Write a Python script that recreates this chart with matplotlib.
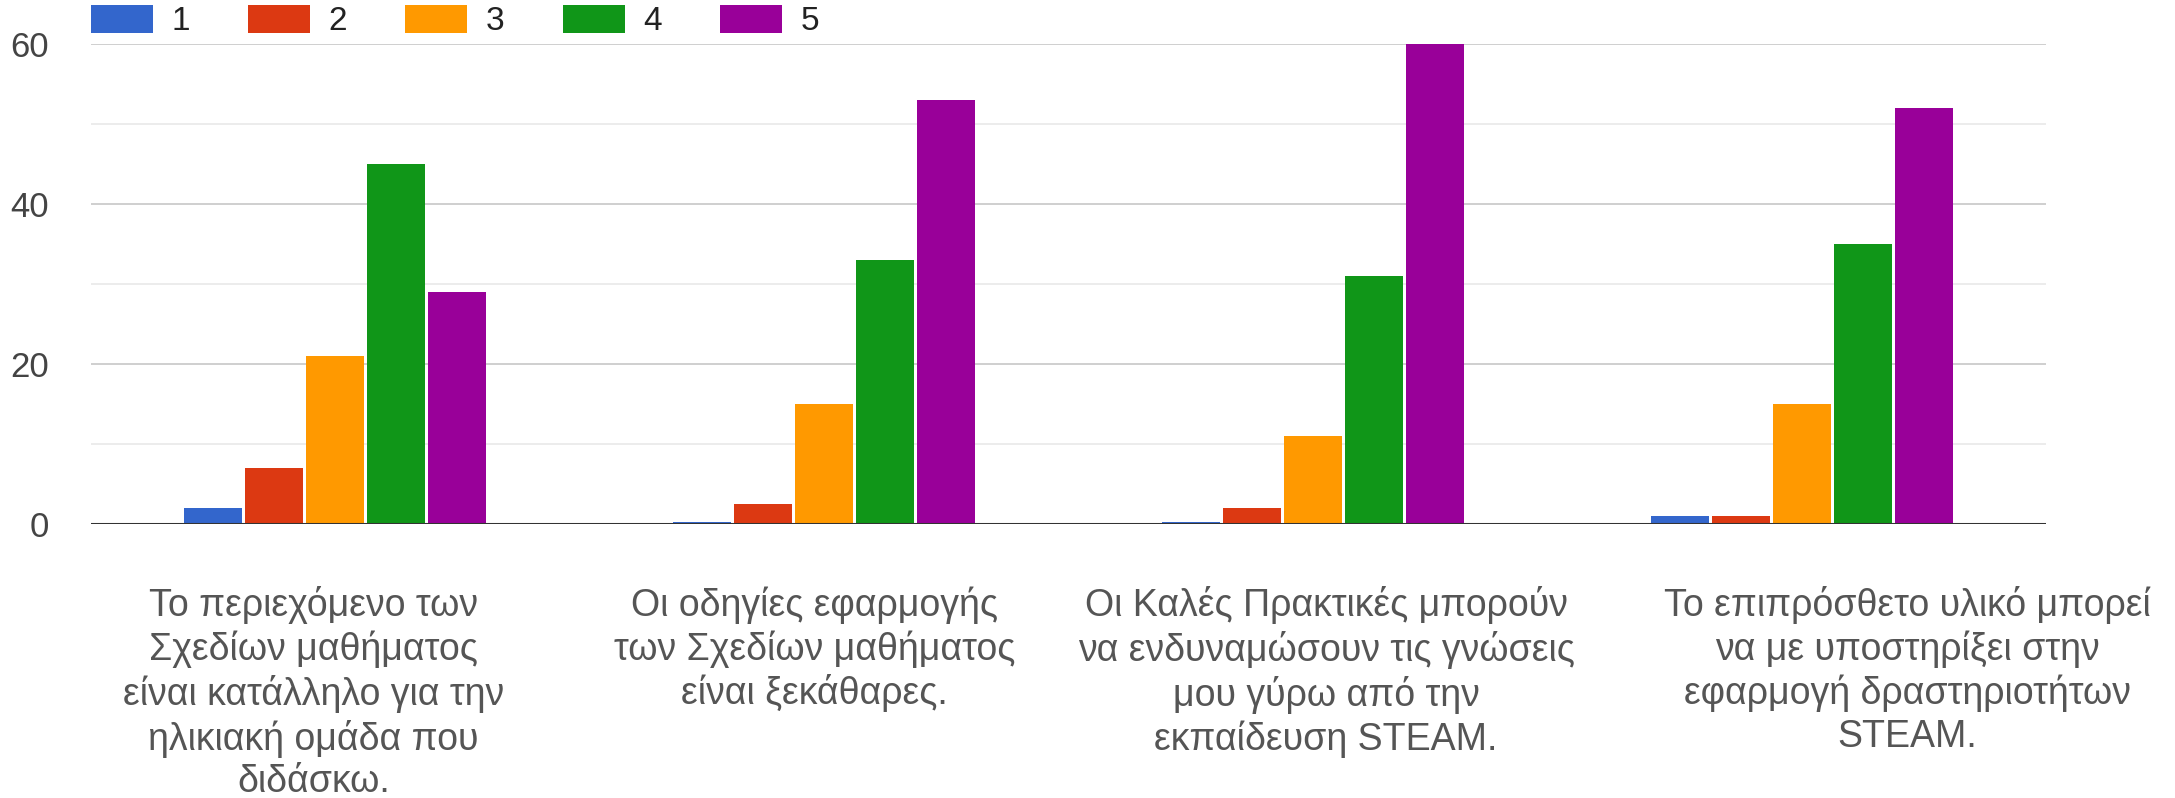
import matplotlib
matplotlib.use('Agg')
import matplotlib.pyplot as plt
import numpy as np

plt.rcParams['font.family'] = ['Liberation Sans', 'DejaVu Sans']

# Δεδομένα
categories = [
    'Το περιεχόμενο των\nΣχεδίων μαθήματος\nείναι κατάλληλο για την\nηλικιακή ομάδα που\nδιδάσκω.',
    'Οι οδηγίες εφαρμογής\nτων Σχεδίων μαθήματος\nείναι ξεκάθαρες.',
    'Οι Καλές Πρακτικές μπορούν\nνα ενδυναμώσουν τις γνώσεις\nμου γύρω από την\nεκπαίδευση STEAM.',
    'Το επιπρόσθετο υλικό μπορεί\nνα με υποστηρίξει στην\nεφαρμογή δραστηριοτήτων\nSTEAM.',
]
series_labels = ['1', '2', '3', '4', '5']
vals_1 = [2, 0.2, 0.2, 1]
vals_2 = [7, 2.5, 2, 1]
vals_3 = [21, 15, 11, 15]
vals_4 = [45, 33, 31, 35]
vals_5 = [29, 53, 60, 52]
series = [vals_1, vals_2, vals_3, vals_4, vals_5]
colors = ['#3366cc', '#dc3912', '#ff9900', '#109618', '#990099']

fig = plt.figure(figsize=(21.75, 7.98), dpi=100)
ax = fig.add_axes([91 / 2175, 274 / 798, 1955 / 2175, 480 / 798])

x = np.arange(len(categories))
step = 0.1247
width = 0.1186
for i, (vals, c, lab) in enumerate(zip(series, colors, series_labels)):
    ax.bar(x + (i - 2) * step, vals, width=width, color=c, label=lab, zorder=3)

ax.set_xlim(-0.5, 3.5)
ax.set_ylim(0, 60)
ax.set_yticks([0, 20, 40, 60])
ax.set_yticks([10, 30, 50], minor=True)
ax.grid(axis='y', which='major', color='#cccccc', linewidth=1.3, zorder=0)
ax.grid(axis='y', which='minor', color='#ebebeb', linewidth=1.3, zorder=0)
ax.axhline(0, color='#333333', linewidth=2.2, zorder=4)
ax.tick_params(axis='y', which='both', length=0, pad=30, labelsize=25, labelcolor='#444444')
ax.set_xticks([])
for s in ax.spines.values():
    s.set_visible(False)

# Ετικέτες κατηγοριών
label_shift = [-0.045, -0.02, 0.027, 0.217]
for xi, txt, sh in zip(x, categories, label_shift):
    ax.text(xi + sh, -0.13, txt, transform=ax.get_xaxis_transform(), ha='center', va='top',
            fontsize=27, color='#555555', linespacing=1.22, multialignment='center')

ax.legend(loc='center left', bbox_to_anchor=(0, 1 + 23 / 480), ncol=5, frameon=False,
          fontsize=24, handlelength=1.86, handleheight=0.9, handletextpad=0.55,
          columnspacing=1.75, borderpad=0, borderaxespad=0, labelcolor='#222222')

plt.savefig('out.png', dpi=100)
